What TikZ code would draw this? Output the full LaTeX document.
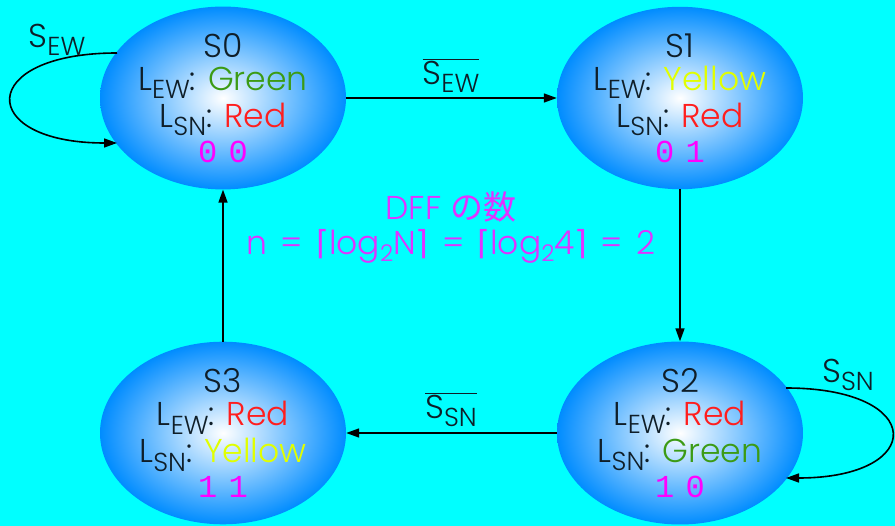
\documentclass[tikz,border=0pt]{standalone}
\usepackage{fontspec}
\setmainfont{Poppins}[UprightFont={* Light}]
\setmonofont{Liberation Mono}
\newfontfamily\cjk{Noto Sans CJK JP}
\newfontfamily\dv{DejaVu Sans}
\usetikzlibrary{shapes.geometric,arrows.meta}
\definecolor{stblue}{RGB}{0,140,255}
\definecolor{gr}{RGB}{60,155,20}
\definecolor{ye}{RGB}{225,255,0}
\definecolor{rd}{RGB}{255,30,30}
\definecolor{mg}{RGB}{255,0,255}
\definecolor{vi}{RGB}{225,50,255}
\definecolor{ink}{RGB}{15,30,40}
\definecolor{bg}{RGB}{0,255,255}
\newcommand\lsub[1]{\raisebox{-0.26em}{\fontsize{26}{26}\selectfont #1}}
\newcommand\lsubb[1]{\raisebox{-0.2em}{\fontsize{23}{23}\selectfont #1}}
\newcommand\ovl[1]{$\overline{\hbox{#1}}$}
\newcommand\dig[2]{\textcolor{mg}{\fontsize{32}{32}\selectfont\ttfamily #1\hspace{0.35em}#2}}
\newcommand\eq{\hspace{0.4em}=\hspace{0.4em}}
\begin{document}
\begin{tikzpicture}[x=1pt,y=-1pt,
  st/.style={ellipse, minimum width=246pt, minimum height=181pt, inner sep=0pt,
    inner color=white, outer color=stblue, align=center,
    font=\fontsize{33}{37}\selectfont, text=ink},
  ar/.style={line width=1.6pt, draw=black, -{Triangle[length=13pt,width=9pt]}},
  lbl/.style={font=\fontsize{33}{36}\selectfont, text=ink, inner sep=0pt}]
\useasboundingbox (0,0) rectangle (895,526);
\fill[bg] (0,0) rectangle (895,526);
\node[st] (s0) at (223,98) {S0\\[-4pt] L\lsub{EW}: \textcolor{gr}{Green}\\ L\lsub{SN}: \textcolor{rd}{Red}\\[-2pt] \dig{0}{0}};
\node[st] (s1) at (680,98) {S1\\[-4pt] L\lsub{EW}: \textcolor{ye}{Yellow}\\ L\lsub{SN}: \textcolor{rd}{Red}\\[-2pt] \dig{0}{1}};
\node[st] (s2) at (680,433) {S2\\[-4pt] L\lsub{EW}: \textcolor{rd}{Red}\\ L\lsub{SN}: \textcolor{gr}{Green}\\[-2pt] \dig{1}{0}};
\node[st] (s3) at (223,433) {S3\\[-4pt] L\lsub{EW}: \textcolor{rd}{Red}\\ L\lsub{SN}: \textcolor{ye}{Yellow}\\[-2pt] \dig{1}{1}};
\node[font=\fontsize{33}{35}\selectfont, text=vi, align=center] (info) at (451,228)
  {DFF {\cjk の数}\\ n\eq{\dv ⌈}log\lsubb{2}N{\dv ⌉}\eq{\dv ⌈}log\lsubb{2}4{\dv ⌉}\eq 2};
\draw[ar] (s0.east) -- (s1.west);
\draw[ar] (s1.south) -- (s2.north);
\draw[ar] (s2.west) -- (s3.east);
\draw[ar] (s3.north) -- (s0.south);
\draw[ar] ([shift={(-106,-45)}]s0.center) .. controls +(-141,0) and +(-141,0) .. ([shift={(-106,45)}]s0.center);
\draw[ar] ([shift={(106,-45)}]s2.center) .. controls +(141,0) and +(141,0) .. ([shift={(106,45)}]s2.center);
\node[lbl] (l01) at (451,76) {\ovl{S\lsub{EW}}};
\node[lbl] (l23) at (451,410) {\ovl{S\lsub{SN}}};
\node[lbl] (l00) at (57,40) {S\lsub{EW}};
\node[lbl] (l22) at (848,375) {S\lsub{SN}};
\end{tikzpicture}
\end{document}
